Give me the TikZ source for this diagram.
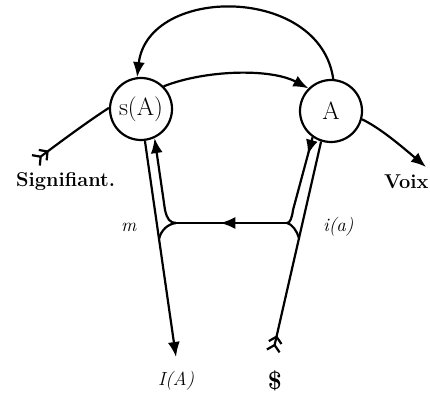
\documentclass[tikz,border=0pt]{standalone}
\usepackage{fontspec}
\usetikzlibrary{arrows.meta,decorations.markings}
\begin{document}
\begin{tikzpicture}[x=1pt,y=-1pt,
  line width=2.2pt,
  tip/.style={-{Latex[length=15pt,width=12pt]}},
  midtip/.style={postaction=decorate,decoration={markings,mark=at position #1 with {\arrow{Latex[length=15pt,width=12pt]}}}},
  place/.style={draw,circle,minimum size=62pt,inner sep=0pt,font=\fontsize{25}{25}\selectfont},
  feather/.style={{Straight Barb[reversed,length=6pt,width=13pt]Straight Barb[reversed,length=6pt,width=13pt]}-},
  lab/.style={font=\fontsize{19}{19}\selectfont\itshape,inner sep=0pt},
  big/.style={font=\fontsize{20}{21}\selectfont\bfseries,inner sep=0pt}]
\useasboundingbox (0,0) rectangle (430,395);
\node[place] (sA) at (141,109) {s(A)};
\node[place] (A) at (331,111) {A};
% top arc and middle arc
\draw[tip] (A.86) .. controls (320,-15) and (148,-15) .. (sA.97);
\draw[tip] (sA.45) .. controls (205,70) and (270,68) .. (A.135);
% signifiant and voix
\coordinate (sig) at (35,161);
\coordinate (voix) at (426,167);
\draw[feather] (sig) .. controls (60,142) and (90,120) .. (sA.178);
\draw[tip] (A.-15) .. controls (380,128) and (400,145) .. (voix);
% left side
\coordinate (IA) at (176,357);
\coordinate (Lj) at (176,223);
\coordinate (Rj) at (287,223);
\draw[tip] (sA.-83) -- (IA);
\draw[line width=1.6pt,midtip=0.6] (Rj) -- (Lj);
\draw[tip] (Lj) .. controls (170,223) and (167,219) .. (165,210) -- (sA.-65);
\draw (Lj) .. controls (168,224) and (161,230) .. (159,239);
% right side
\coordinate (S) at (273,352);
\draw[feather] (S) -- (A.-108);
\draw (Rj) .. controls (292,224) and (297,231) .. (299,238);
\draw[midtip=0.2] (A.-125) -- (293,210) .. controls (292,218) and (290,223) .. (Rj);
% labels
\node[big,anchor=base west] (sigl) at (15,186) {Signifiant.};
\node[big,anchor=base west] (voixl) at (383,189) {Voix};
\node[lab,anchor=base west] (ml) at (120,231) {m};
\node[lab,anchor=base west] (ial) at (322,231) {i(a)};
\node[lab,anchor=base west] (IAl) at (157,385) {I(A)};
\node[font=\fontsize{25}{25}\selectfont\bfseries] (Sl) at (275,381) {\$};
\end{tikzpicture}
\end{document}
